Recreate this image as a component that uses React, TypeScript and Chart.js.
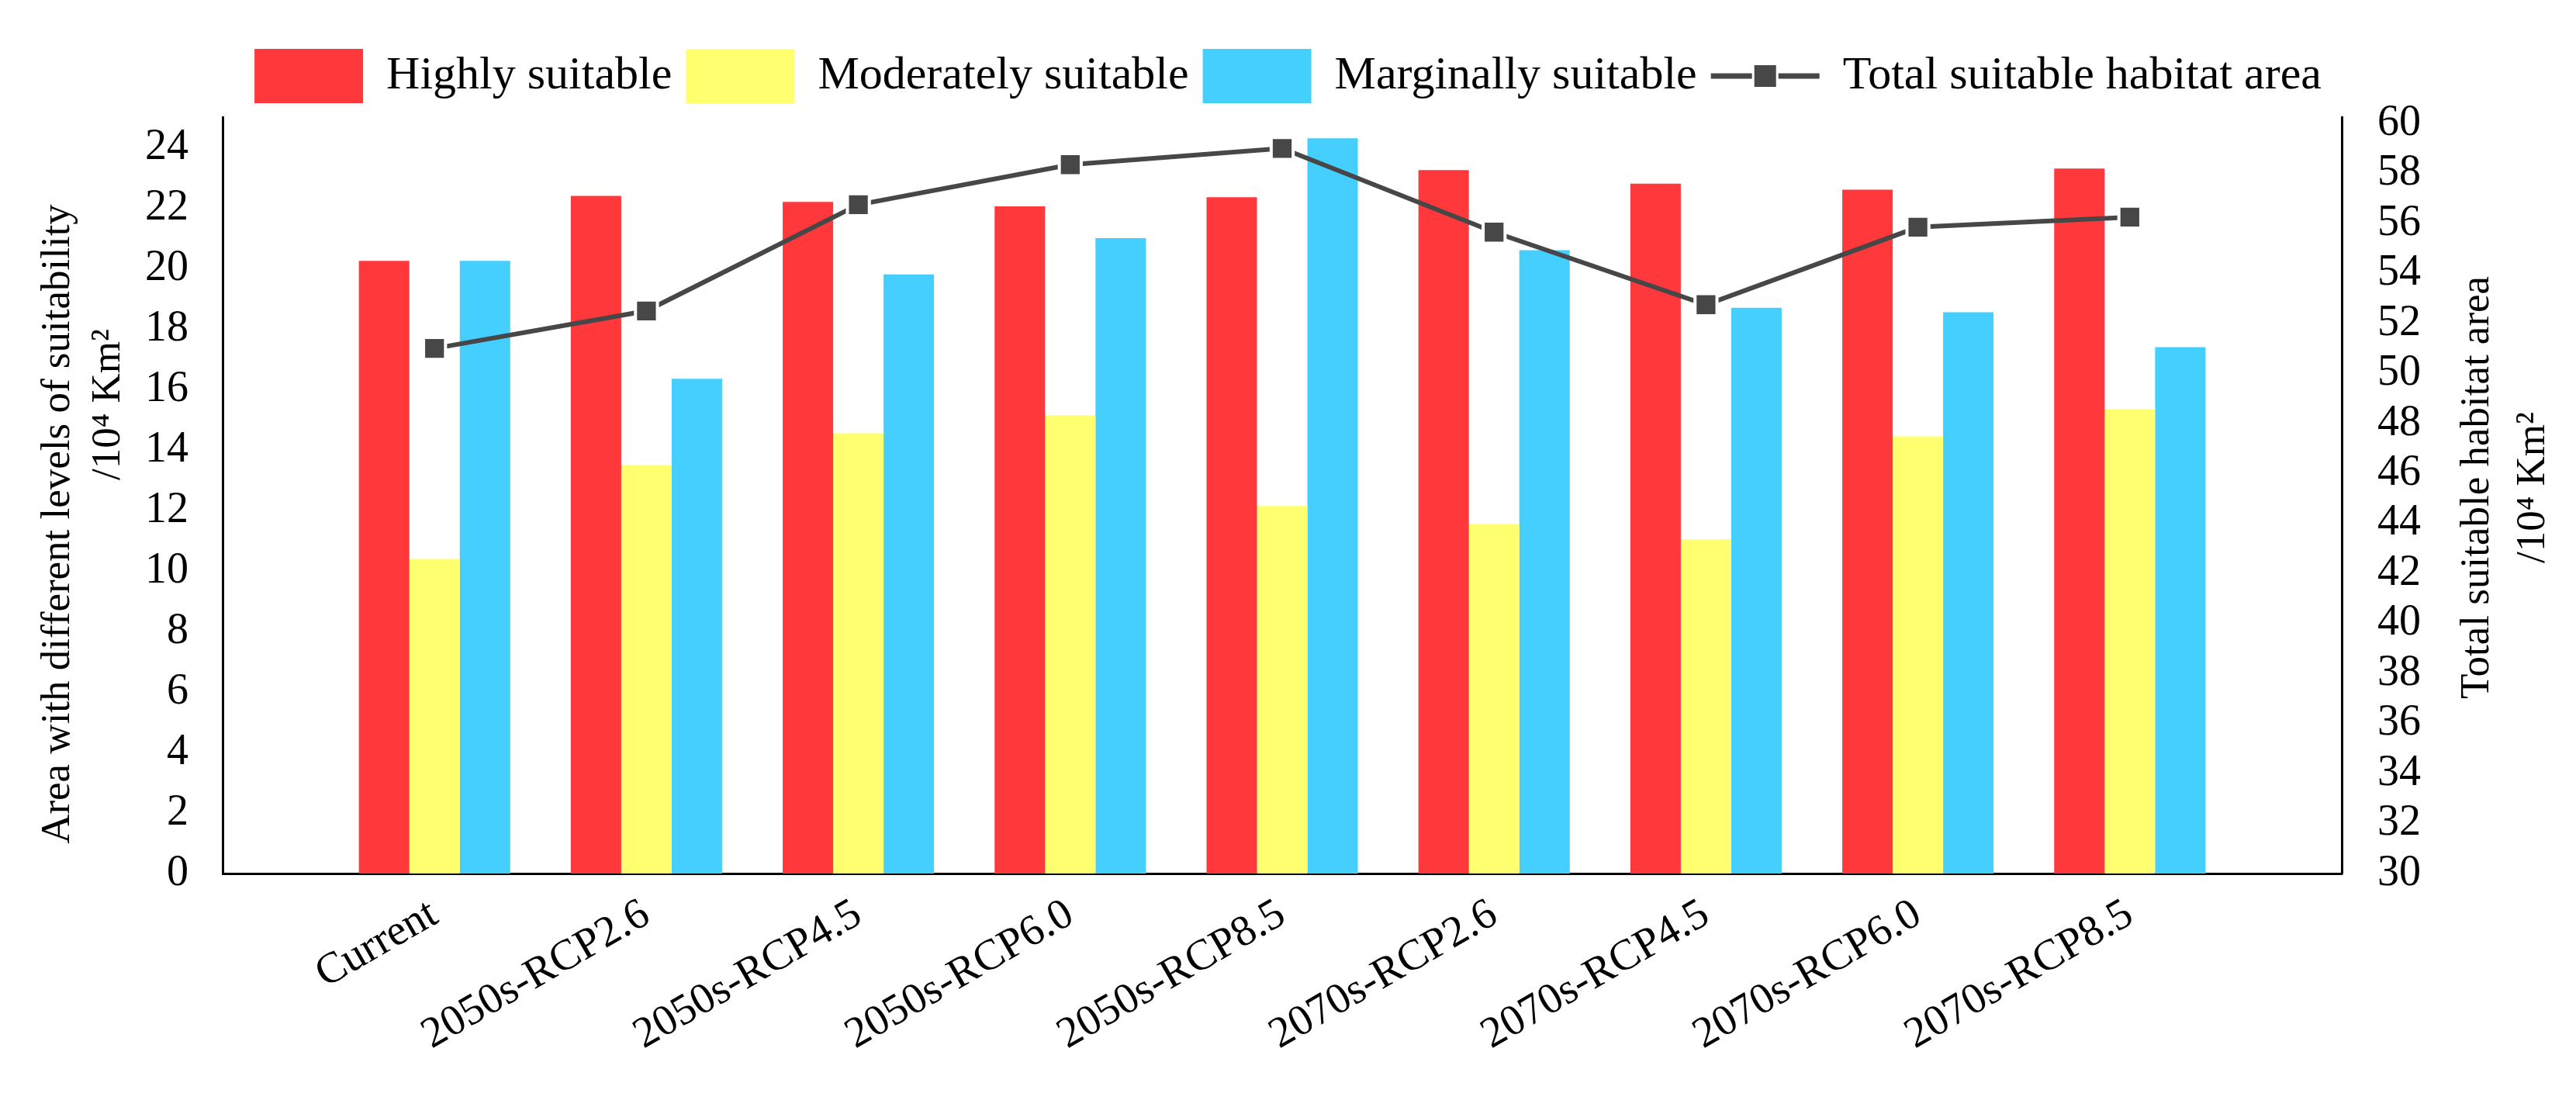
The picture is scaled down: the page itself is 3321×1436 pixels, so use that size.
import React, { useEffect, useRef } from 'react';
import { Chart, registerables } from 'chart.js';

Chart.register(...registerables);

const categories = [
  'Current',
  '2050s-RCP2.6',
  '2050s-RCP4.5',
  '2050s-RCP6.0',
  '2050s-RCP8.5',
  '2070s-RCP2.6',
  '2070s-RCP4.5',
  '2070s-RCP6.0',
  '2070s-RCP8.5',
];
const highlySuitable = [20.25, 22.4, 22.2, 22.05, 22.35, 23.25, 22.8, 22.6, 23.3];
const moderatelySuitable = [10.4, 13.5, 14.55, 15.15, 12.15, 11.55, 11.05, 14.45, 15.35];
const marginallySuitable = [20.25, 16.35, 19.8, 21.0, 24.3, 20.6, 18.7, 18.55, 17.4];
const totalSuitable = [51.0, 52.5, 56.75, 58.35, 59.0, 55.65, 52.75, 55.85, 56.25];

const leftAxisTitle = ['Area with different levels of suitability', '/10\u2074 Km\u00B2'];
const rightAxisTitle = ['Total suitable habitat area', '/10\u2074 Km\u00B2'];

const FONT = "'Liberation Serif', 'Times New Roman', serif";
const RED = '#FF383C';
const YELLOW = '#FFFF70';
const BLUE = '#45CFFF';
const LINE = '#474747';

const pad = (a: (number | null)[]) => [null, ...a, null];

const extrasPlugin = {
  id: 'extras',
  afterDraw(chart: any) {
    const { ctx, chartArea } = chart;
    const cy = (chartArea.top + chartArea.bottom) / 2;
    ctx.save();
    ctx.fillStyle = '#000';
    ctx.font = `53px ${FONT}`;
    ctx.textAlign = 'center';
    ctx.textBaseline = 'middle';
    // left axis title
    const leftX = [chartArea.left - 212, chartArea.left - 147];
    const leftY = [cy + 37, cy - 117];
    leftAxisTitle.forEach((t, i) => {
      ctx.save();
      ctx.translate(leftX[i], leftY[i]);
      ctx.rotate(-Math.PI / 2);
      ctx.fillText(t, 0, 0);
      ctx.restore();
    });
    // right axis title, read bottom-to-top like the reference
    rightAxisTitle.forEach((t, i) => {
      ctx.save();
      ctx.translate(chartArea.right + 175 + i * 72, cy - 10);
      ctx.rotate(-Math.PI / 2);
      ctx.fillText(t, 0, 0);
      ctx.restore();
    });
    ctx.restore();

    // legend symbol for the line series
    const legend = chart.legend;
    if (legend && legend.legendItems) {
      const idx = legend.legendItems.findIndex((it: any) => it.datasetIndex === 3);
      const hb = legend.legendHitBoxes[idx];
      if (hb) {
        const w = legend.options.labels.boxWidth;
        const y = hb.top + hb.height / 2;
        ctx.save();
        ctx.strokeStyle = LINE;
        ctx.lineWidth = 7;
        ctx.beginPath();
        ctx.moveTo(hb.left, y);
        ctx.lineTo(hb.left + w, y);
        ctx.stroke();
        ctx.fillStyle = '#fff';
        ctx.fillRect(hb.left + w / 2 - 17, y - 17, 34, 34);
        ctx.fillStyle = LINE;
        ctx.fillRect(hb.left + w / 2 - 14, y - 14, 28, 28);
        ctx.restore();
      }
    }
  },
};

export default function App() {
  const ref = useRef<HTMLCanvasElement | null>(null);

  useEffect(() => {
    document.body.style.margin = '0';
    document.body.style.overflow = 'hidden';
    if (!ref.current) return;
    const tickFont = { family: FONT, size: 56 };
    const barCommon = {
      borderWidth: 0,
      barPercentage: 1,
      categoryPercentage: 0.714,
      yAxisID: 'y',
      order: 1,
    };
    const chart = new Chart(ref.current, {
      type: 'bar',
      data: {
        labels: ['', ...categories, ''],
        datasets: [
          { label: 'Highly suitable', data: pad(highlySuitable), backgroundColor: RED, ...barCommon },
          { label: 'Moderately suitable', data: pad(moderatelySuitable), backgroundColor: YELLOW, ...barCommon },
          { label: 'Marginally suitable', data: pad(marginallySuitable), backgroundColor: BLUE, ...barCommon },
          {
            type: 'line',
            label: 'Total suitable habitat area',
            data: pad(totalSuitable),
            yAxisID: 'y1',
            borderColor: LINE,
            backgroundColor: LINE,
            borderWidth: 6,
            pointStyle: 'rect',
            pointRadius: 20,
            pointBackgroundColor: LINE,
            pointBorderColor: '#ffffff',
            pointBorderWidth: 4,
            tension: 0,
            order: 0,
          } as any,
        ],
      },
      options: {
        animation: false,
        responsive: true,
        maintainAspectRatio: false,
        layout: { padding: { top: 45, left: 0, right: 0, bottom: 0 } },
        plugins: {
          legend: {
            position: 'top',
            labels: {
              boxWidth: 140,
              boxHeight: 70,
              padding: 18,
              color: '#000',
              font: { family: FONT, size: 60 },
              sort: (a: any, b: any) => a.datasetIndex - b.datasetIndex,
              generateLabels: (chart: any) => {
                const items = Chart.defaults.plugins.legend.labels.generateLabels(chart);
                items.forEach((it: any) => {
                  if (it.datasetIndex === 3) {
                    it.fillStyle = 'rgba(0,0,0,0)';
                    it.strokeStyle = 'rgba(0,0,0,0)';
                  }
                  it.lineWidth = 0;
                });
                return items;
              },
            },
          },
          title: {
            display: true,
            text: '',
            weight: 500,
            padding: 0,
            font: { size: 8, lineHeight: 1 },
          } as any,
          tooltip: { enabled: false },
        },
        scales: {
          x: {
            type: 'category',
            offset: false,
            grid: { display: false, drawTicks: false },
            border: { display: true, color: '#000', width: 3 },
            ticks: {
              color: '#000',
              font: tickFont,
              minRotation: 30,
              maxRotation: 30,
              autoSkip: false,
              padding: 20,
            },
            afterFit: (s: any) => {
              s.height = 310;
            },
          },
          y: {
            position: 'left',
            min: 0,
            max: 25,
            grid: { display: false, drawTicks: false },
            border: { display: true, color: '#000', width: 3 },
            ticks: {
              stepSize: 2,
              includeBounds: false,
              autoSkip: false,
              padding: 44,
              color: '#000',
              font: tickFont,
            },
            afterFit: (s: any) => {
              s.width = 287;
            },
          },
          y1: {
            position: 'right',
            min: 30,
            max: 60.25,
            grid: { display: false, drawTicks: false },
            border: { display: true, color: '#000', width: 3 },
            ticks: {
              stepSize: 2,
              includeBounds: false,
              autoSkip: false,
              padding: 46,
              color: '#000',
              font: tickFont,
            },
            afterFit: (s: any) => {
              s.width = 302;
            },
          },
        },
      },
      plugins: [extrasPlugin],
    });
    return () => chart.destroy();
  }, []);

  return (
    <div style={{ position: 'relative', width: '3321px', height: '1436px' }}>
      <canvas ref={ref} />
    </div>
  );
}
